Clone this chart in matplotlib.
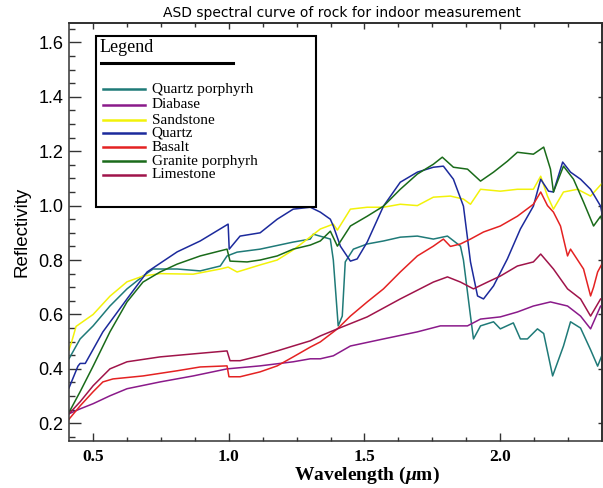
import numpy as np
import matplotlib.pyplot as plt
from matplotlib.lines import Line2D
from matplotlib.patches import Rectangle
from matplotlib.ticker import MultipleLocator

plt.rcParams['mathtext.fontset'] = 'custom'
plt.rcParams['mathtext.it'] = 'Liberation Serif:italic:bold'
plt.rcParams['mathtext.rm'] = 'Liberation Serif:bold'

# spectra: wavelength (um) and reflectivity
qp_wl = [0.41, 0.451, 0.499, 0.561, 0.624, 0.683, 0.720, 0.809, 0.894, 0.968, 0.993, 1.030, 1.115, 1.237, 1.300,
         1.311, 1.374, 1.385, 1.403, 1.418, 1.429, 1.459, 1.510, 1.570, 1.632, 1.695, 1.754, 1.806, 1.854, 1.865,
         1.891, 1.902, 1.928, 1.976, 2.001, 2.049, 2.075, 2.101, 2.138, 2.161, 2.194, 2.234, 2.260, 2.297, 2.334,
         2.360, 2.38]
qp_val = [0.437, 0.51, 0.558, 0.631, 0.694, 0.741, 0.767, 0.767, 0.76, 0.778, 0.815, 0.829, 0.84, 0.866, 0.877,
          0.895, 0.877, 0.80, 0.558, 0.594, 0.793, 0.84, 0.859, 0.87, 0.884, 0.888, 0.877, 0.888, 0.851, 0.80,
          0.594, 0.51, 0.558, 0.573, 0.547, 0.569, 0.51, 0.51, 0.547, 0.53, 0.374, 0.484, 0.573, 0.55, 0.47,
          0.41, 0.46]

dia_wl = [0.41, 0.451, 0.499, 0.561, 0.624, 0.746, 0.868, 0.993, 1.115, 1.237, 1.300, 1.337, 1.385, 1.448, 1.570,
          1.695, 1.780, 1.880, 1.928, 2.001, 2.064, 2.123, 2.186, 2.249, 2.297, 2.334, 2.371, 2.38]
dia_val = [0.235, 0.253, 0.272, 0.301, 0.327, 0.352, 0.374, 0.40, 0.411, 0.426, 0.437, 0.437, 0.448, 0.484, 0.51,
           0.536, 0.558, 0.558, 0.583, 0.591, 0.609, 0.631, 0.646, 0.631, 0.594, 0.547, 0.631, 0.63]

ss_wl = [0.41, 0.42, 0.436, 0.499, 0.561, 0.624, 0.683, 0.746, 0.868, 0.968, 0.997, 1.030, 1.115, 1.178, 1.237,
         1.300, 1.337, 1.385, 1.400, 1.448, 1.510, 1.570, 1.632, 1.695, 1.754, 1.817, 1.865, 1.891, 1.928, 2.001,
         2.064, 2.123, 2.150, 2.175, 2.197, 2.234, 2.286, 2.334, 2.38]
ss_val = [0.47, 0.50, 0.556, 0.60, 0.667, 0.72, 0.741, 0.75, 0.748, 0.767, 0.774, 0.756, 0.782, 0.80, 0.837,
          0.885, 0.914, 0.932, 0.91, 0.987, 0.994, 0.994, 1.005, 1.0, 1.031, 1.035, 1.024, 1.005, 1.06, 1.053,
          1.06, 1.06, 1.108, 1.035, 0.987, 1.05, 1.06, 1.035, 1.086]

qz_wl = [0.41, 0.443, 0.451, 0.47, 0.535, 0.624, 0.698, 0.809, 0.894, 0.997, 1.001, 1.041, 1.115, 1.178, 1.237,
         1.300, 1.337, 1.374, 1.385, 1.411, 1.448, 1.473, 1.510, 1.570, 1.632, 1.695, 1.754, 1.791, 1.828, 1.865,
         1.891, 1.917, 1.939, 1.976, 2.027, 2.075, 2.123, 2.150, 2.179, 2.197, 2.231, 2.260, 2.297, 2.334, 2.371,
         2.38]
qz_val = [0.33, 0.41, 0.42, 0.42, 0.536, 0.657, 0.756, 0.83, 0.87, 0.932, 0.84, 0.888, 0.90, 0.95, 0.987,
          0.994, 0.976, 0.95, 0.925, 0.851, 0.796, 0.804, 0.866, 0.998, 1.086, 1.123, 1.141, 1.145, 1.097, 0.998,
          0.793, 0.668, 0.657, 0.705, 0.804, 0.914, 0.998, 1.097, 1.053, 1.05, 1.16, 1.123, 1.097, 1.06, 0.998,
          0.95]

bs_wl = [0.41, 0.451, 0.499, 0.535, 0.572, 0.683, 0.809, 0.894, 0.993, 1.000, 1.041, 1.115, 1.178, 1.237, 1.300,
         1.337, 1.400, 1.448, 1.510, 1.570, 1.632, 1.695, 1.754, 1.791, 1.817, 1.854, 1.891, 1.939, 2.001, 2.064,
         2.123, 2.150, 2.175, 2.197, 2.223, 2.249, 2.260, 2.308, 2.334, 2.345, 2.360, 2.38]
bs_val = [0.215, 0.264, 0.316, 0.352, 0.363, 0.374, 0.393, 0.407, 0.411, 0.371, 0.371, 0.389, 0.411, 0.444, 0.48,
          0.499, 0.547, 0.594, 0.646, 0.694, 0.756, 0.815, 0.851, 0.877, 0.85, 0.859, 0.877, 0.903, 0.925, 0.961,
          1.005, 1.05, 1.00, 0.976, 0.925, 0.815, 0.84, 0.767, 0.668, 0.70, 0.756, 0.793]

gp_wl = [0.41, 0.451, 0.499, 0.561, 0.624, 0.683, 0.746, 0.809, 0.894, 0.993, 1.004, 1.067, 1.115, 1.178, 1.237,
         1.300, 1.337, 1.374, 1.400, 1.448, 1.510, 1.570, 1.632, 1.695, 1.754, 1.787, 1.828, 1.880, 1.928, 1.976,
         2.027, 2.064, 2.123, 2.161, 2.186, 2.197, 2.234, 2.271, 2.308, 2.345, 2.371, 2.38]
gp_val = [0.24, 0.316, 0.41, 0.536, 0.646, 0.719, 0.756, 0.785, 0.815, 0.84, 0.796, 0.793, 0.80, 0.815, 0.84,
          0.855, 0.87, 0.906, 0.851, 0.925, 0.961, 0.998, 1.06, 1.116, 1.152, 1.178, 1.141, 1.134, 1.09, 1.123,
          1.163, 1.196, 1.189, 1.215, 1.134, 1.05, 1.145, 1.097, 1.013, 0.925, 0.961, 0.93]

ls_wl = [0.41, 0.451, 0.499, 0.561, 0.624, 0.746, 0.868, 0.993, 1.004, 1.041, 1.115, 1.178, 1.237, 1.300, 1.337,
         1.400, 1.510, 1.632, 1.754, 1.806, 1.854, 1.902, 1.954, 2.001, 2.064, 2.123, 2.150, 2.197, 2.249, 2.297,
         2.334, 2.371, 2.38]
ls_val = [0.235, 0.279, 0.338, 0.40, 0.426, 0.444, 0.455, 0.466, 0.43, 0.43, 0.448, 0.466, 0.484, 0.503, 0.521,
          0.547, 0.591, 0.657, 0.719, 0.738, 0.719, 0.694, 0.719, 0.741, 0.778, 0.793, 0.822, 0.767, 0.694, 0.657,
          0.594, 0.657, 0.66]

names = ['Quartz porphyrh', 'Diabase', 'Sandstone', 'Quartz', 'Basalt', 'Granite porphyrh', 'Limestone']
colors = ['#1f7a78', '#8a1a8a', '#f2f20a', '#1c2a9c', '#e42222', '#1a6b1a', '#a0144a']
series = [(qp_wl, qp_val), (dia_wl, dia_val), (ss_wl, ss_val), (qz_wl, qz_val),
          (bs_wl, bs_val), (gp_wl, gp_val), (ls_wl, ls_val)]

W, H = 603, 488
fig = plt.figure(figsize=(W / 100, H / 100), dpi=100)
ax = fig.add_axes([69 / W, 1 - 440.7 / H, (601.7 - 69) / W, (440.7 - 23.3) / H])

for (wl, val), c in zip(series, colors):
    ax.plot(wl, val, color=c, lw=1.1)

ax.set_xlim(0.41, 2.375)
ax.set_ylim(0.136, 1.67)

ax.xaxis.set_major_locator(MultipleLocator(0.5))
ax.xaxis.set_minor_locator(MultipleLocator(0.125))
ax.yaxis.set_major_locator(MultipleLocator(0.2))
ax.yaxis.set_minor_locator(MultipleLocator(0.05))
ax.set_xticks([0.5, 1.0, 1.5, 2.0], ['0.5', '1.0', '1.5', '2.0'])

ax.tick_params(axis='y', which='major', direction='in', length=8.6, width=1, pad=4,
               labelsize=13, color='#333333')
ax.tick_params(axis='y', which='minor', direction='in', length=4.3, width=1, color='#333333')
ax.tick_params(axis='x', which='major', direction='in', length=5.8, width=1, pad=6, color='#333333')
ax.tick_params(axis='x', which='minor', direction='in', length=2.9, width=1, color='#333333')
for lab in ax.get_yticklabels():
    lab.set_fontfamily('Liberation Sans')
for lab in ax.get_xticklabels():
    lab.set_fontfamily('Liberation Serif')
    lab.set_fontweight('bold')
    lab.set_fontsize(12.5)

for s in ax.spines.values():
    s.set_linewidth(1.1)
    s.set_color('#333333')

# ticks on top and right side
top = ax.secondary_xaxis('top')
top.xaxis.set_major_locator(MultipleLocator(0.5))
top.xaxis.set_minor_locator(MultipleLocator(0.125))
top.tick_params(which='major', direction='in', length=4, width=1, labeltop=False, color='#333333')
top.tick_params(which='minor', direction='in', length=3, width=1, color='#333333')
top.spines['top'].set_linewidth(1.1)
right = ax.secondary_yaxis('right')
right.yaxis.set_major_locator(MultipleLocator(0.2))
right.tick_params(which='major', direction='in', length=3, width=1, labelright=False, color='#333333')
right.spines['right'].set_linewidth(1.1)

fig.text(342 / W, 1 - 13.3 / H, 'ASD spectral curve of rock for indoor measurement',
         ha='center', va='center', fontsize=10, family='DejaVu Sans')
fig.text(22 / W, 1 - 232 / H, 'Reflectivity', rotation=90, ha='center', va='center',
         fontsize=13.5, family='Liberation Sans')
fig.text(367 / W, 1 - 475 / H, r'Wavelength ($\mu$m)', ha='center', va='center',
         fontsize=14, family='Liberation Serif', fontweight='bold')

# hand drawn legend box
def fx(px):
    return px / W

def fy(py):
    return 1 - py / H

box = Rectangle((fx(96), fy(207)), fx(316) - fx(96), fy(36) - fy(207), transform=fig.transFigure,
                facecolor='white', edgecolor='black', lw=1.5, zorder=5)
fig.add_artist(box)
fig.text(fx(100), fy(47), 'Legend', ha='left', va='center', fontsize=13,
         family='Liberation Serif', zorder=6)
fig.add_artist(Line2D([fx(100.7), fx(233.3)], [fy(63.3), fy(63.3)], transform=fig.transFigure,
                      color='black', lw=2.2, zorder=6))
rows = [89.3, 104.7, 120, 133.3, 147.3, 161, 175]
for name, c, ry in zip(names, colors, rows):
    fig.add_artist(Line2D([fx(103.3), fx(145)], [fy(ry), fy(ry)], transform=fig.transFigure,
                          color=c, lw=1.8, zorder=6))
    fig.text(fx(151.7), fy(ry), name, ha='left', va='center', fontsize=11,
             family='Liberation Serif', zorder=6)

fig.savefig('out.png', dpi=100)
